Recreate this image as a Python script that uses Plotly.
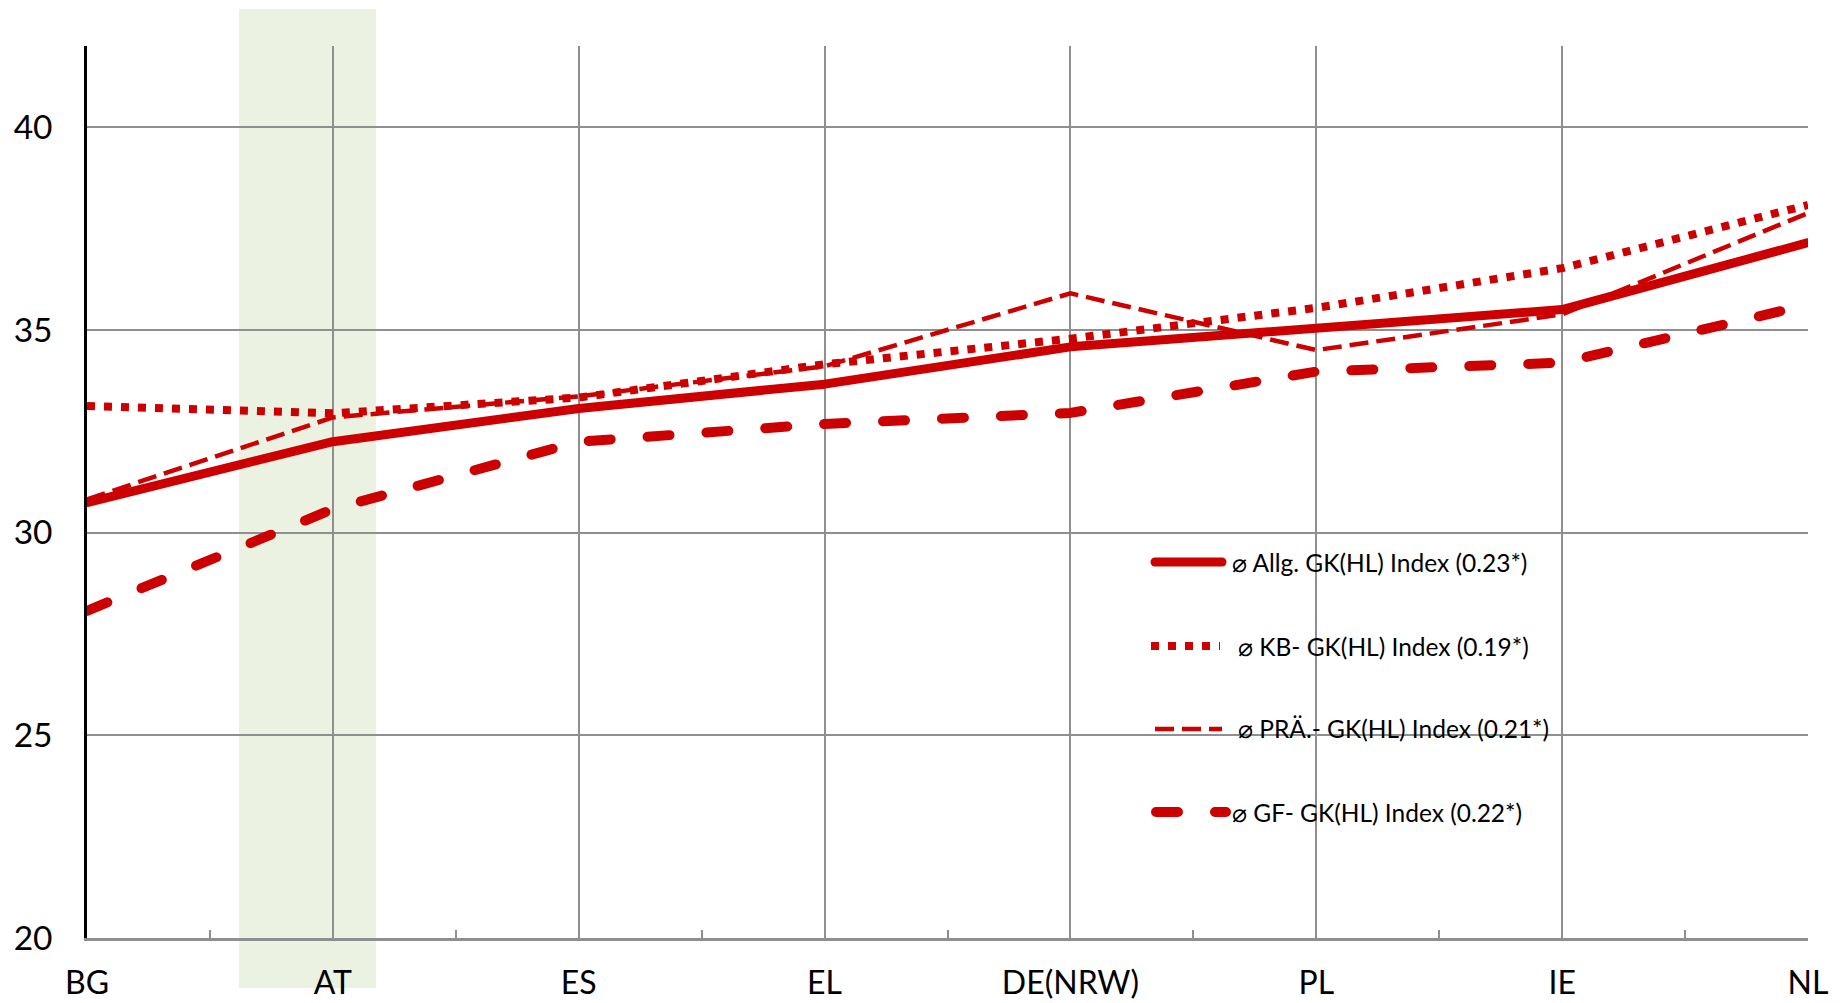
import plotly.graph_objects as go

# Countries along the x axis
categories = ["BG", "AT", "ES", "EL", "DE(NRW)", "PL", "IE", "NL"]

# Mean index values per country
allg_index = [30.74, 32.24, 33.06, 33.66, 34.58, 35.05, 35.50, 37.15]
kb_index = [33.12, 32.94, 33.33, 34.15, 34.78, 35.54, 36.52, 38.08]
prae_index = [30.82, 32.84, 33.36, 34.10, 35.90, 34.50, 35.38, 37.88]
gf_index = [28.07, 30.58, 32.24, 32.68, 32.95, 33.97, 34.19, 35.62]

series_names = [
    "⌀ Allg. GK(HL) Index (0.23*)",
    "⌀ KB- GK(HL) Index (0.19*)",
    "⌀ PRÄ.- GK(HL) Index (0.21*)",
    "⌀ GF- GK(HL) Index (0.22*)",
]

y_ticks = [20, 25, 30, 35, 40]

RED = "#cc0000"
GRID = "#8f8f8f"
FONT = "Lato, 'Open Sans', sans-serif"

W, H = 1843, 1003
M_L, M_R, M_T, M_B = 87, 35, 46, 65
PW, PH = W - M_L - M_R, H - M_T - M_B


def px_x(p):
    """Pixel column -> paper x."""
    return (p - M_L) / PW


def px_y(p):
    """Pixel row -> paper y."""
    return (H - M_B - p) / PH


x_idx = list(range(len(categories)))

styles = [
    dict(width=9, dash="solid"),
    dict(width=8, dash="8px,9px"),
    dict(width=4.5, dash="19px,8px"),
    dict(width=10, dash="22px,37px"),
]
values = [allg_index, kb_index, prae_index, gf_index]

fig = go.Figure()
for name, vals, st in zip(series_names, values, styles):
    fig.add_trace(go.Scatter(
        x=x_idx, y=vals, mode="lines", name=name, showlegend=False,
        line=dict(color=RED, width=st["width"], dash=st["dash"]),
        hoverinfo="skip",
    ))

shapes = []
# highlighted column behind AT
shapes.append(dict(
    type="rect", xref="paper", yref="paper", layer="below",
    x0=px_x(239), x1=px_x(376), y0=px_y(988), y1=px_y(9),
    fillcolor="#ecf2e1", line=dict(width=0),
))
# white legend panel covering the grid
shapes.append(dict(
    type="rect", xref="paper", yref="paper", layer="between",
    x0=px_x(1118), x1=px_x(1569), y0=px_y(855), y1=px_y(521),
    fillcolor="white", line=dict(width=0),
))

legend_rows = [562, 646, 729, 812]
sample_x = [(1155, 1222), (1151, 1220), (1155, 1222), (1156, 1226)]
text_x = [1230, 1236, 1236, 1230]
annotations = []
for i, (name, st, row) in enumerate(zip(series_names, styles, legend_rows)):
    x0, x1 = sample_x[i]
    shapes.append(dict(
        type="line", xref="paper", yref="paper", layer="above",
        x0=px_x(x0), x1=px_x(x1), y0=px_y(row), y1=px_y(row),
        line=dict(color=RED, width=st["width"], dash=st["dash"]),
    ))
    annotations.append(dict(
        xref="paper", yref="paper", x=px_x(text_x[i]), y=px_y(row),
        xanchor="left", yanchor="middle", text=name, showarrow=False,
        font=dict(family=FONT, size=24.5, color="black"),
    ))

fig.update_layout(
    width=W, height=H,
    margin=dict(l=M_L, r=M_R, t=M_T, b=M_B, pad=0, autoexpand=False),
    paper_bgcolor="white", plot_bgcolor="rgba(0,0,0,0)",
    font=dict(family=FONT, size=32, color="black"),
    shapes=shapes, annotations=annotations,
    xaxis=dict(
        range=[0, len(categories) - 1], tickmode="array",
        tickvals=x_idx, ticktext=categories, ticks="",
        showgrid=True, gridcolor=GRID, gridwidth=1.6,
        showline=True, linecolor=GRID, linewidth=2.5,
        zeroline=False, ticklabelstandoff=15, automargin=False,
        tickfont=dict(family=FONT, size=32, color="black"),
        minor=dict(tick0=0.5, dtick=1, ticks="inside", ticklen=8,
                   tickcolor=GRID, tickwidth=1.6, showgrid=False),
    ),
    yaxis=dict(
        range=[20, 42], tickmode="array", tickvals=y_ticks, ticks="",
        showgrid=True, gridcolor=GRID, gridwidth=1.6,
        showline=True, linecolor="black", linewidth=2.5,
        zeroline=False, ticklabelstandoff=25, automargin=False,
        tickfont=dict(family=FONT, size=33.5, color="black"),
    ),
)

# rounded line ends for the solid and long-dashed series (and their keys)
round_caps = """
var gd = document.getElementById('{plot_id}');
function roundCaps() {
  var traces = gd.querySelectorAll('.scatterlayer .trace');
  [0, 3].forEach(function (i) {
    if (traces[i]) {
      traces[i].querySelectorAll('path.js-line').forEach(function (p) {
        p.style.strokeLinecap = 'round';
        p.style.strokeLinejoin = 'round';
      });
    }
  });
  [2, 5].forEach(function (i) {
    gd.querySelectorAll('.shapelayer path[data-index="' + i + '"]').forEach(function (p) {
      p.style.strokeLinecap = 'round';
    });
  });
}
gd.on('plotly_afterplot', roundCaps);
roundCaps();
"""

fig.write_html("out.html", post_script=round_caps)
